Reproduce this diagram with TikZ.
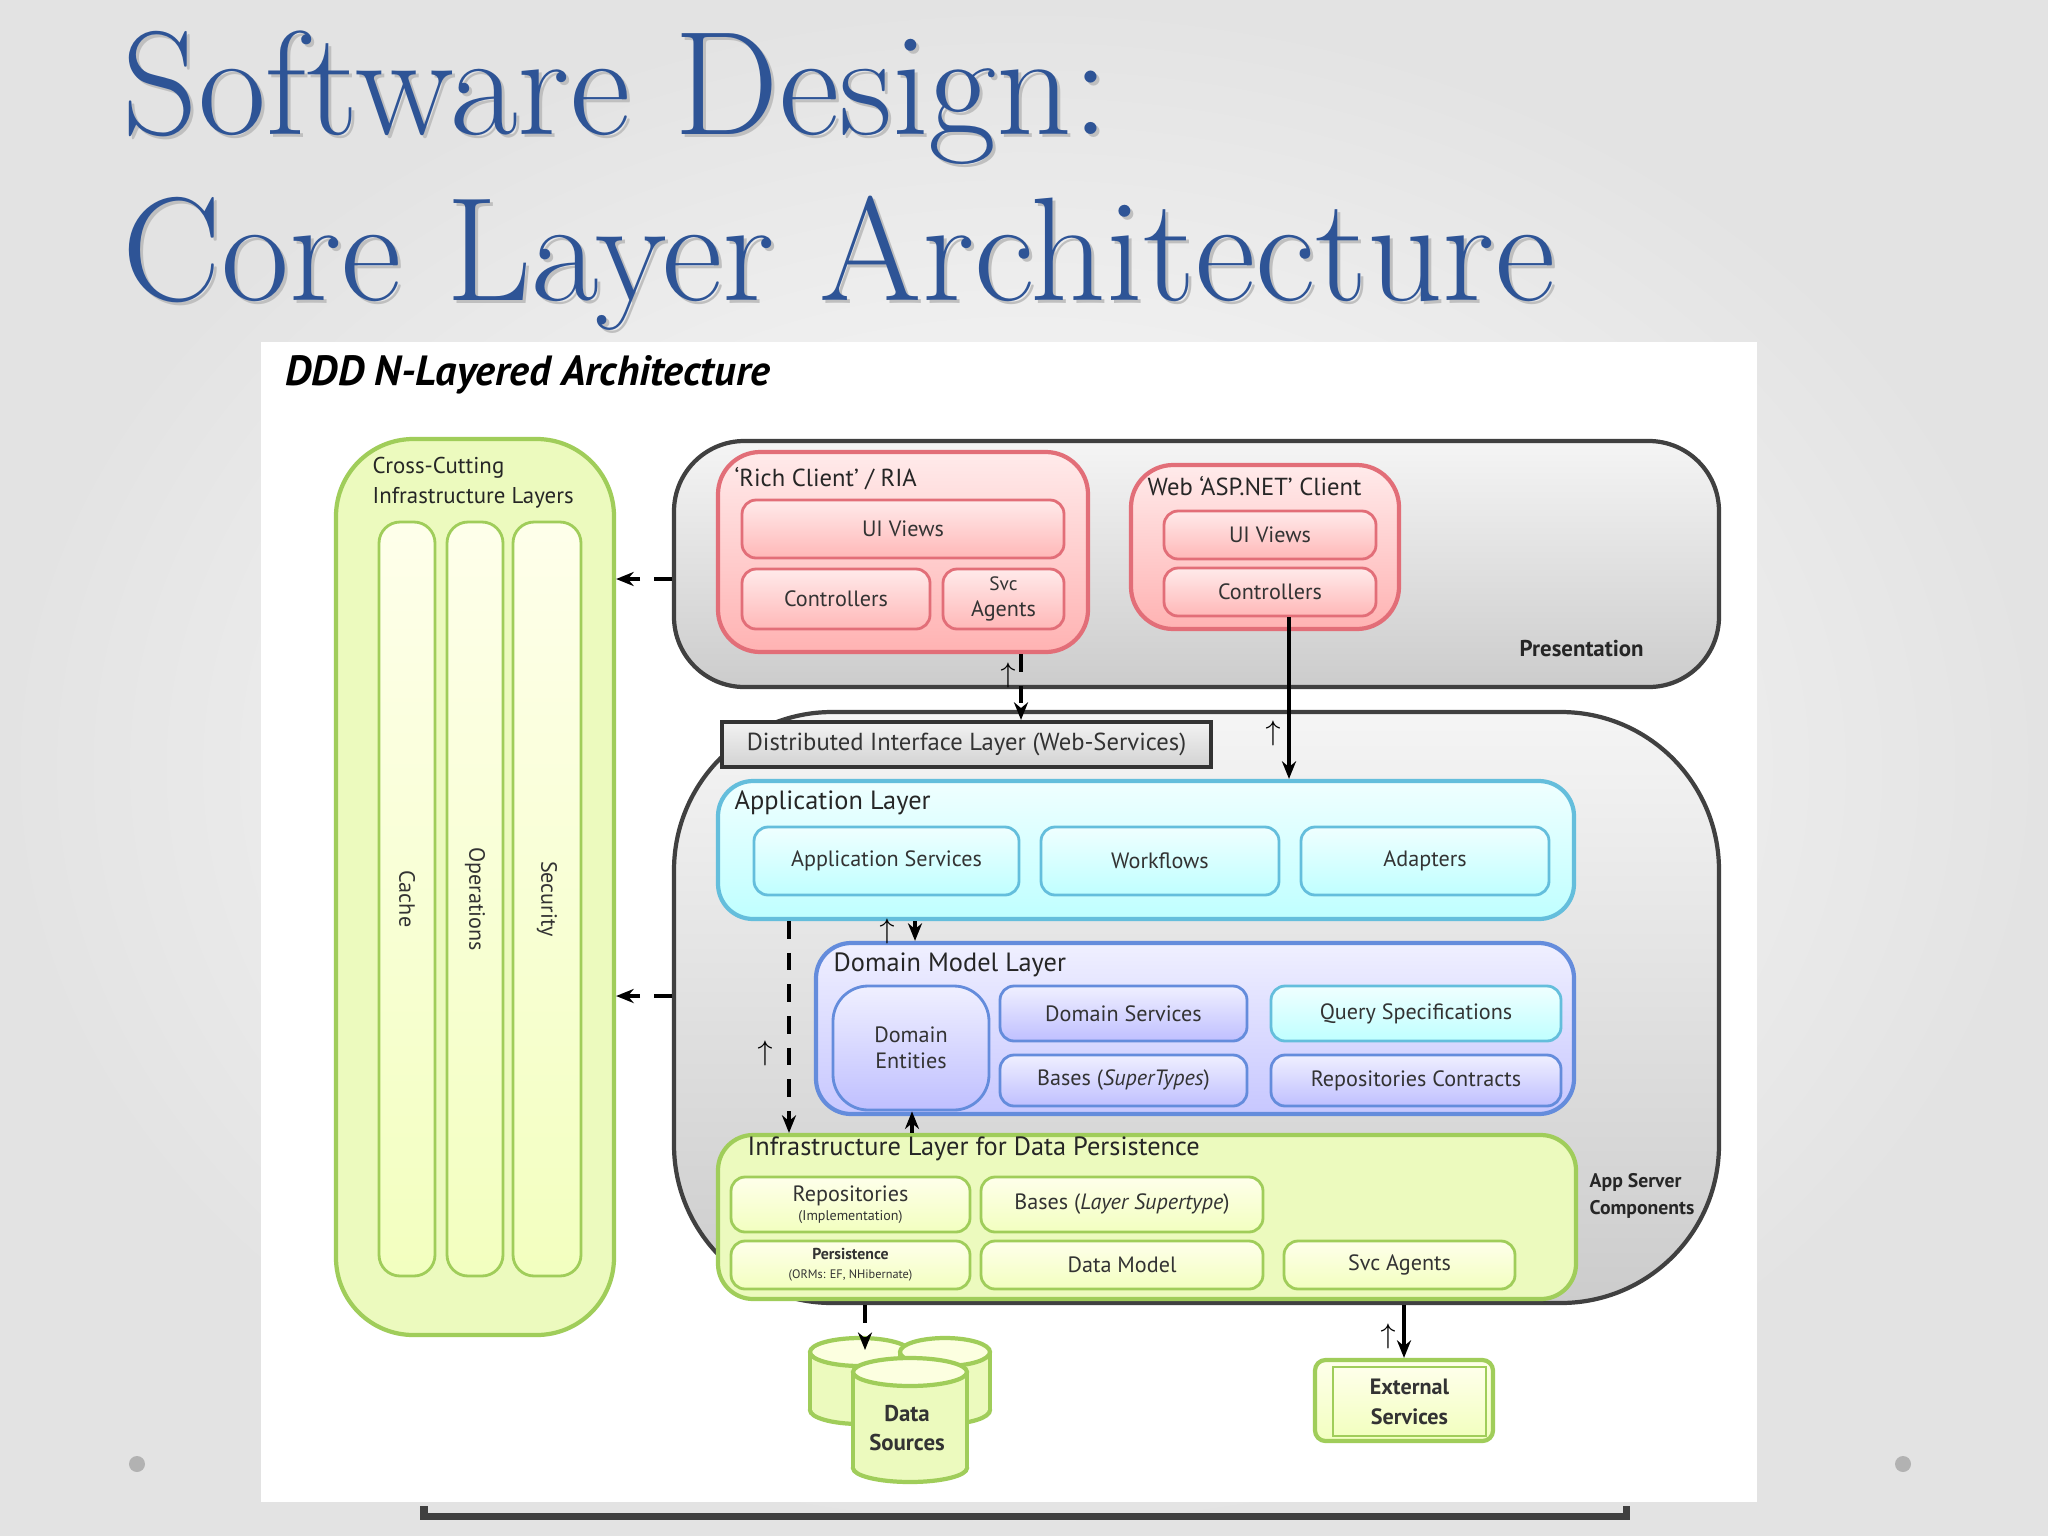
\documentclass[tikz,border=0pt]{standalone}
\usepackage{fontspec}
\setsansfont{PT Sans}
\usetikzlibrary{fit,arrows.meta}
\definecolor{ttl}{RGB}{46,84,150}
\definecolor{pkb}{RGB}{226,110,120}
\definecolor{grb}{RGB}{160,205,90}
\definecolor{grf}{RGB}{236,250,190}
\definecolor{cyb}{RGB}{100,190,220}
\definecolor{blb}{RGB}{100,140,220}
\tikzset{
  bx/.style={inner sep=0pt, rounded corners=4pt},
  lbl/.style={inner sep=0pt, font=\sffamily\fontsize{6.3}{7.5}\selectfont, text=black!80, align=center},
  pinkbig/.style={bx, draw=pkb, line width=1.2pt, top color=red!8, bottom color=red!30, rounded corners=12pt},
  pinkbox/.style={bx, draw=pkb, line width=0.8pt, top color=red!8, bottom color=red!28},
  greybig/.style={bx, draw=black!75, line width=1.2pt, top color=gray!8, bottom color=gray!40, rounded corners=20pt},
  cyanbig/.style={bx, draw=cyb, line width=1.2pt, top color=cyan!6, bottom color=cyan!25, rounded corners=10pt},
  cyanbox/.style={bx, draw=cyb, line width=0.8pt, top color=cyan!6, bottom color=cyan!25},
  bluebig/.style={bx, draw=blb, line width=1.2pt, top color=blue!6, bottom color=blue!22, rounded corners=10pt},
  bluebox/.style={bx, draw=blb, line width=0.8pt, top color=blue!6, bottom color=blue!25},
  greenbig/.style={bx, draw=grb, line width=1.2pt, fill=grf, rounded corners=10pt},
  greenbox/.style={bx, draw=grb, line width=0.8pt, top color=green!3!yellow!8, bottom color=green!20!yellow!25},
  ttltext/.style={anchor=west, inner sep=0pt, font=\sffamily\fontsize{7}{8}\selectfont, text=black!85},
  conn/.style={line width=1pt, -{Stealth[length=5pt,width=4pt]}},
  dconn/.style={conn, dash pattern=on 5pt off 4pt},
  upsym/.style={inner sep=0pt, font=\fontsize{8}{8}\selectfont}
}
\newcommand\bxn[5]{\node[#1, fit={(#3) (#4)}] (#2) {}; \node[lbl] at (#2) {#5};}
\begin{document}
\begin{tikzpicture}[x=0.01cm,y=-0.01cm]
\useasboundingbox (0,0) rectangle (2048,1536);
\shade[inner color=white, outer color=gray!22] (0,0) rectangle (2048,1536);
% title
\foreach \dx/\col in {3/gray!50, 0/ttl}{
  \node[anchor=west, inner sep=0pt, text=\col, font=\fontsize{42}{46}\selectfont] at (122+\dx,98+\dx) {Software Design:};
  \node[anchor=west, inner sep=0pt, text=\col, font=\fontsize{42}{46}\selectfont] at (122+\dx,263+\dx) {Core Layer Architecture};
}
\fill[gray!60] (137,1464) circle (8);
\fill[gray!60] (1903,1464) circle (8);
% panel
\draw[line width=2pt, black!75] (424,1506) -- (424,1516) -- (1626,1516) -- (1626,1506);
\fill[white] (261,342) rectangle (1757,1502);
\node[anchor=west, inner sep=0pt, font=\sffamily\bfseries\itshape\fontsize{12}{14}\selectfont] (ddd) at (285,375) {DDD N-Layered Architecture};

% cross-cutting
\node[greenbig, rounded corners=22pt, fit={(336,439) (614,1335)}] (cc) {};
\node[anchor=north west, align=left, inner sep=0pt, font=\sffamily\fontsize{6.5}{8.5}\selectfont, text=black!85] (cct) at (372,457) {Cross-Cutting\\Infrastructure Layers};
\node[greenbox, rounded corners=6pt, fit={(379,522) (435,1276)}] (cache) {};
\node[rotate=-90, lbl] at (cache) {Cache};
\node[greenbox, rounded corners=6pt, fit={(447,522) (503,1276)}] (ops) {};
\node[rotate=-90, lbl] at (ops) {Operations};
\node[greenbox, rounded corners=6pt, fit={(513,522) (581,1276)}] (sec) {};
\node[rotate=-90, lbl] at (sec) {Security};

% presentation
\node[greybig, fit={(674,441) (1719,687)}] (pres) {};
\node[ttltext, font=\sffamily\bfseries\fontsize{6.5}{8}\selectfont] at (1519,649) {Presentation};
\node[pinkbig, fit={(718,452) (1088,652)}] (rich) {};
\node[ttltext] at (734,479) {`Rich Client' / RIA};
\bxn{pinkbox}{ruiv}{742,500}{1064,558}{UI Views}
\bxn{pinkbox}{rctl}{742,569}{930,629}{Controllers}
\bxn{pinkbox}{rsvc}{943,569}{1064,629}{\fontsize{5.5}{8}\selectfont Svc\\Agents}
\node[pinkbig, fit={(1131,465) (1399,629)}] (web) {};
\node[ttltext] at (1147,486) {Web `ASP.NET' Client};
\bxn{pinkbox}{wuiv}{1164,511}{1376,559}{UI Views}
\bxn{pinkbox}{wctl}{1164,568}{1376,616}{Controllers}

% app server
\node[greybig, rounded corners=45pt, fit={(674,712) (1719,1303)}] (apps) {};
\node[anchor=west, align=left, inner sep=0pt, font=\sffamily\bfseries\fontsize{5.6}{7.5}\selectfont, text=black!85] at (1589,1196) {App Server\\Components};
\node[bx, rounded corners=0pt, draw=black!80, line width=1.2pt, top color=gray!10, bottom color=gray!35, fit={(722,722) (1211,767)}] (dil) {};
\node[lbl, font=\sffamily\fontsize{7}{8}\selectfont] at (dil) {Distributed Interface Layer (Web-Services)};

\node[cyanbig, fit={(718,781) (1574,919)}] (appl) {};
\node[ttltext, font=\sffamily\fontsize{7.5}{9}\selectfont] at (734,803) {Application Layer};
\bxn{cyanbox}{asvc}{754,827}{1019,895}{Application Services}
\bxn{cyanbox}{wf}{1041,827}{1279,895}{Workflows}
\bxn{cyanbox}{adp}{1301,827}{1549,895}{Adapters}

\node[bluebig, fit={(816,943) (1574,1114)}] (dml) {};
\node[ttltext, font=\sffamily\fontsize{7.5}{9}\selectfont] at (833,965) {Domain Model Layer};
\node[bluebox, rounded corners=10pt, fit={(833,986) (989,1110)}] (dent) {};
\node[lbl] at (dent) {Domain\\Entities};
\bxn{bluebox}{dsvc}{1000,986}{1247,1041}{Domain Services}
\bxn{cyanbox}{qs}{1271,986}{1561,1041}{Query Specifications}
\bxn{bluebox}{bst}{1000,1055}{1247,1106}{Bases (\textit{SuperTypes})}
\bxn{bluebox}{rc}{1271,1055}{1561,1106}{Repositories Contracts}

\node[greenbig, fit={(718,1135) (1576,1299)}] (infra) {};
\node[ttltext, font=\sffamily\fontsize{7.5}{9}\selectfont] at (747,1149) {Infrastructure Layer for Data Persistence};
\bxn{greenbox}{repo}{731,1177}{970,1232}{Repositories\\[-2pt]{\fontsize{4}{5}\selectfont (Implementation)}}
\bxn{greenbox}{blst}{981,1177}{1263,1232}{Bases (\textit{Layer Supertype})}
\bxn{greenbox}{pers}{731,1241}{970,1289}{{\fontsize{4.5}{5}\selectfont\bfseries Persistence}\\[-2pt]{\fontsize{3.5}{4}\selectfont (ORMs: EF, NHibernate)}}
\bxn{greenbox}{dm}{981,1241}{1263,1289}{Data Model}
\bxn{greenbox}{isvc}{1284,1241}{1515,1289}{Svc Agents}

% data sources cylinders
\foreach \cx/\rx/\ty/\by in {860/50/1352/1410, 945/45/1352/1410, 910/57/1372/1468}{
  \fill[grf] (\cx,\by) ellipse ({\rx} and 14);
  \draw[grb, line width=1.2pt] (\cx,\by) ellipse ({\rx} and 14);
  \fill[grf] (\cx-\rx,\ty) rectangle (\cx+\rx,\by);
  \draw[grb, line width=1.2pt] (\cx-\rx,\ty) -- (\cx-\rx,\by) (\cx+\rx,\ty) -- (\cx+\rx,\by);
  \fill[green!8!yellow!12] (\cx,\ty) ellipse ({\rx} and 14);
  \draw[grb, line width=1.2pt] (\cx,\ty) ellipse ({\rx} and 14);
}
\node[lbl, font=\sffamily\bfseries\fontsize{6.5}{8.5}\selectfont] (ds) at (907,1428) {Data\\Sources};
\coordinate (dstop) at (865,1350);

% external services
\node[greenbox, rounded corners=3pt, line width=1.2pt, fit={(1315,1360) (1493,1441)}] (ext) {};
\node[greenbox, rounded corners=0pt, fit={(1333,1367) (1486,1436)}] (exti) {};
\node[lbl, font=\sffamily\bfseries\fontsize{6.3}{8.5}\selectfont] at (exti) {External\\Services};

% connectors
\draw[dconn] (pres.west |- 0,579) -- (cc.east |- 0,579);
\draw[dconn] (apps.west |- 0,996) -- (cc.east |- 0,996);
\draw[dconn] (rich.south -| 1021,0) -- (dil.north -| 1021,0);
\node[upsym] at (1008,675) {$\uparrow$};
\draw[conn] (wctl.south -| 1289,0) -- (appl.north -| 1289,0);
\node[upsym] at (1273,733) {$\uparrow$};
\node[upsym] at (887,931) {$\uparrow$};
\draw[conn] (appl.south -| 915,0) -- (dml.north -| 915,0);
\draw[dconn] (appl.south -| 789,0) -- (infra.north -| 789,0);
\node[upsym] at (765,1053) {$\uparrow$};
\draw[conn] (infra.north -| 912,0) -- (dent.south -| 912,0);
\draw[dconn] (apps.south -| 865,0) -- (dstop);
\draw[conn] (apps.south -| 1404,0) -- (ext.north -| 1404,0);
\node[upsym] at (1388,1336) {$\uparrow$};
\end{tikzpicture}
\end{document}
